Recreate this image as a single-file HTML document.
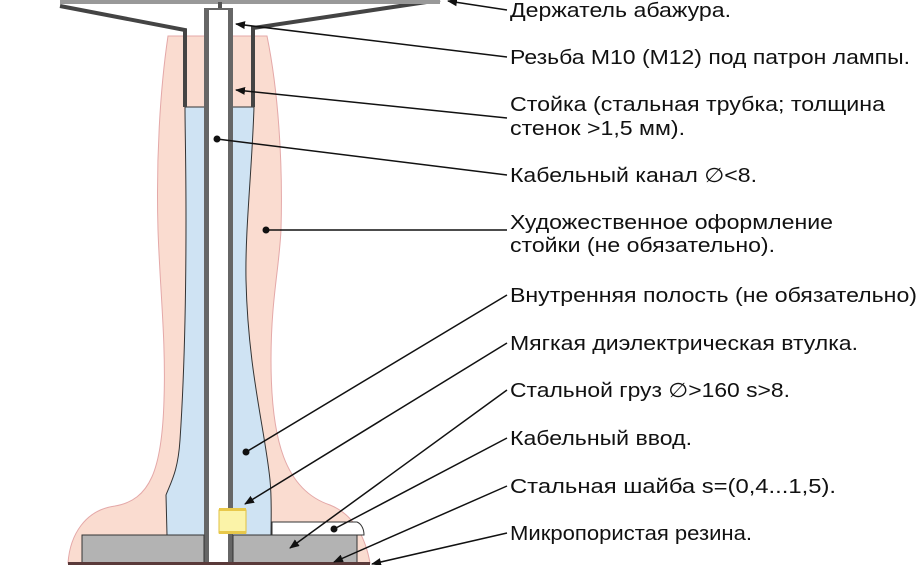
<!DOCTYPE html>
<html><head><meta charset="utf-8"><style>
html,body{margin:0;padding:0;background:#fff;}
svg{display:block;}
text{font-family:"Liberation Sans",sans-serif;font-size:20px;fill:#111;}
</style></head><body>
<svg width="920" height="565" viewBox="0 0 920 565">
<defs><marker id="a" markerWidth="10" markerHeight="8" refX="9" refY="4" orient="auto" markerUnits="userSpaceOnUse"><path d="M0,0 L10,4 L0,8 Z" fill="#111"/></marker></defs>
<!-- pink outer -->
<path d="M168,36 L267,36 C278,90 283,160 281,230 C279,270 271,300 271,360 C271,440 285,490 330,505 C355,515 366,540 370,563 L68,563 C70,535 85,510 115,506 C150,500 162,470 164,400 C166,340 160,290 158,230 C156,160 160,90 168,36 Z" fill="#fadcd0" stroke="#e4a8a8" stroke-width="1"/>
<!-- blue cavity -->
<path d="M185,107 L205,107 L205,535 L167,535 L166,495 C172,480 178,470 180,440 C184,380 186,300 186,220 C186,160 185,130 185,107 Z" fill="#cfe3f3" stroke="#333" stroke-width="1"/>
<path d="M232,107 L254,107 C252,170 245,230 246,280 C248,370 265,430 270,480 C272,500 271,520 271,535 L232,535 Z" fill="#cfe3f3" stroke="#333" stroke-width="1"/>
<!-- shade holder -->
<polyline points="60,6 185,30 185,107" fill="none" stroke="#444" stroke-width="4"/>
<polyline points="440,0 253,28 253,107" fill="none" stroke="#444" stroke-width="4"/>
<rect x="60" y="0" width="380" height="4" fill="#999"/>
<rect x="218" y="2" width="4" height="6" fill="#555"/>
<!-- tube -->
<rect x="204" y="8" width="29" height="557" fill="#666"/>
<rect x="209" y="10" width="19" height="555" fill="#fff"/>
<!-- washer -->
<path d="M272,522 L357,522 C362,524 364,530 364,535 L272,535 Z" fill="#fff" stroke="#333" stroke-width="1"/>
<!-- base plate -->
<rect x="82" y="535" width="122" height="28" fill="#b3b3b3" stroke="#333" stroke-width="1"/>
<rect x="233" y="535" width="124" height="28" fill="#b3b3b3" stroke="#333" stroke-width="1"/>
<rect x="68" y="562" width="302" height="3" fill="#5a3a3a"/>
<!-- bushing -->
<rect x="219" y="510" width="27" height="23" fill="#fbf3a8" stroke="#e0c040" stroke-width="1"/>
<rect x="219" y="508" width="27" height="3" fill="#e8c84a"/>
<rect x="219" y="531" width="27" height="3" fill="#e8c84a"/>
<!-- leaders -->
<g stroke="#111" stroke-width="1.5" fill="none">
<line x1="507" y1="10" x2="448" y2="1" marker-end="url(#a)"/>
<line x1="507" y1="57" x2="236" y2="24" marker-end="url(#a)"/>
<line x1="507" y1="118" x2="236" y2="90" marker-end="url(#a)"/>
<line x1="507" y1="175" x2="217" y2="139"/>
<line x1="507" y1="230" x2="266" y2="230"/>
<line x1="507" y1="295" x2="246" y2="452"/>
<line x1="507" y1="343" x2="245" y2="504" marker-end="url(#a)"/>
<line x1="507" y1="390" x2="290" y2="548" marker-end="url(#a)"/>
<line x1="507" y1="438" x2="334" y2="529"/>
<line x1="507" y1="486" x2="334" y2="562" marker-end="url(#a)"/>
<line x1="507" y1="533" x2="372" y2="564" marker-end="url(#a)"/>
</g>
<g fill="#111"><circle cx="217" cy="139" r="3.5"/><circle cx="266" cy="230" r="3.5"/><circle cx="246" cy="452" r="3.5"/><circle cx="334" cy="529" r="3.5"/></g>
<!-- labels -->
<text x="510" y="17" textLength="221" lengthAdjust="spacingAndGlyphs">Держатель абажура.</text>
<text x="510" y="64" textLength="400" lengthAdjust="spacingAndGlyphs">Резьба М10 (М12) под патрон лампы.</text>
<text x="510" y="111" textLength="375" lengthAdjust="spacingAndGlyphs">Стойка (стальная трубка; толщина</text>
<text x="510" y="135" textLength="175" lengthAdjust="spacingAndGlyphs">стенок &gt;1,5 мм).</text>
<text x="510" y="182" textLength="247" lengthAdjust="spacingAndGlyphs">Кабельный канал ∅&lt;8.</text>
<text x="510" y="229" textLength="323" lengthAdjust="spacingAndGlyphs">Художественное оформление</text>
<text x="510" y="252" textLength="265" lengthAdjust="spacingAndGlyphs">стойки (не обязательно).</text>
<text x="510" y="302" textLength="407" lengthAdjust="spacingAndGlyphs">Внутренняя полость (не обязательно)</text>
<text x="510" y="350" textLength="348" lengthAdjust="spacingAndGlyphs">Мягкая диэлектрическая втулка.</text>
<text x="510" y="397" textLength="280" lengthAdjust="spacingAndGlyphs">Стальной груз ∅&gt;160 s&gt;8.</text>
<text x="510" y="445" textLength="182" lengthAdjust="spacingAndGlyphs">Кабельный ввод.</text>
<text x="510" y="493" textLength="326" lengthAdjust="spacingAndGlyphs">Стальная шайба s=(0,4...1,5).</text>
<text x="510" y="540" textLength="242" lengthAdjust="spacingAndGlyphs">Микропористая резина.</text>
</svg>
</body></html>
